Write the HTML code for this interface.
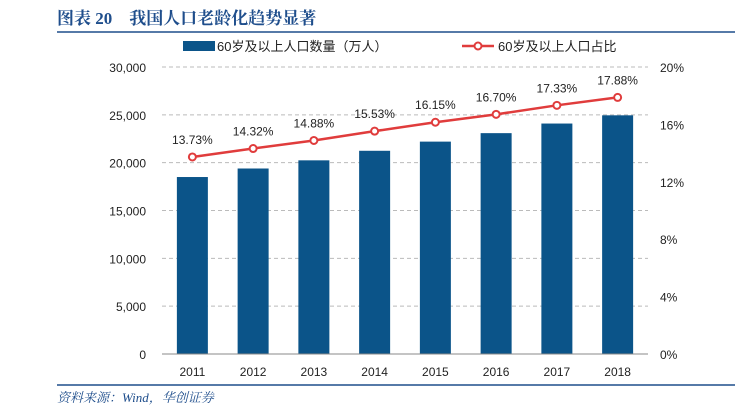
<!DOCTYPE html>
<html><head><meta charset="utf-8"><style>
body{margin:0;background:#fff;}
svg{display:block;font-family:"Liberation Sans","Noto Sans CJK SC",sans-serif;}
</style></head><body>
<svg width="735" height="411">
<text x="57" y="24" font-family="'Liberation Serif','Noto Serif CJK SC',serif" font-weight="bold" font-size="17" fill="#1f4e8c">图表 20　我国人口老龄化趋势显著</text>
<line x1="57" y1="32" x2="735" y2="32" stroke="#1f4e8c" stroke-width="1.5"/>
<g>
<rect x="183" y="41" width="32" height="10" fill="#0b5489"/>
<text x="217" y="51" font-size="13" fill="#222">60岁及以上人口数量（万人）</text>
<line x1="462" y1="46" x2="494" y2="46" stroke="#e03c3c" stroke-width="2.5"/>
<circle cx="478" cy="46" r="3.5" fill="#fff" stroke="#e03c3c" stroke-width="2"/>
<text x="498" y="51" font-size="13" fill="#222">60岁及以上人口占比</text>
</g>
<g id="grid"></g><g id="bars"></g><g id="line"></g><g id="axes"></g>
<line x1="57" y1="385" x2="735" y2="385" stroke="#1f4e8c" stroke-width="1.5"/>
<text x="57" y="402" font-family="'Liberation Serif','Noto Serif CJK SC',serif" font-style="italic" font-size="13" fill="#1f4e8c">资料来源：Wind，华创证券</text>
</svg>
<script>
const years=["2011","2012","2013","2014","2015","2016","2017","2018"];
const population=[18499,19390,20243,21242,22200,23086,24090,24949];
const ratio=[13.73,14.32,14.88,15.53,16.15,16.70,17.33,17.88];
const leftTicks=[0,5000,10000,15000,20000,25000,30000];
const leftTickLabels=["0","5,000","10,000","15,000","20,000","25,000","30,000"];
const rightTicks=[0,4,8,12,16,20];
const NS="http://www.w3.org/2000/svg";
const x0=162,x1=648,yB=354,yT=67;
const band=(x1-x0)/years.length;
const xc=i=>x0+band*(i+0.5);
const yL=v=>yB-(v/30000)*(yB-yT);
const yR=v=>yB-(v/20)*(yB-yT);
function mk(tag,attrs,parent,text){const e=document.createElementNS(NS,tag);for(const k in attrs)e.setAttribute(k,attrs[k]);if(text!==undefined)e.textContent=text;document.getElementById(parent).appendChild(e);return e;}
leftTicks.forEach((t,i)=>{
  const y=yL(t);
  if(t>0){const g=mk('line',{x1:x0,x2:x1,y1:y,y2:y,stroke:'#bbb','stroke-dasharray':'4 3'},'grid');
  
  }
  const l=mk('text',{x:146,y:y+5,'text-anchor':'end','font-size':12,fill:'#222'},'axes',leftTickLabels[i]);
  
  
});
rightTicks.forEach(t=>{
  const l=mk('text',{x:660,y:yR(t)+5,'font-size':12,fill:'#222'},'axes',t+'%');
  
  
});
const base=mk('line',{x1:x0,x2:x1,y1:yB,y2:yB,stroke:'#888','stroke-width':1},'axes');


const bw=31;
years.forEach((yr,i)=>{
  const b=mk('rect',{x:xc(i)-bw/2,y:yL(population[i]),width:bw,height:yB-yL(population[i]),fill:'#0b5489'},'bars');
  
  
  const l=mk('text',{x:xc(i),y:376,'text-anchor':'middle','font-size':12,fill:'#222'},'axes',yr);
  
  
});
const pts=ratio.map((v,i)=>xc(i)+','+yR(v)).join(' ');
const pl=mk('polyline',{points:pts,fill:'none',stroke:'#e03c3c','stroke-width':2.5},'line');


ratio.forEach((v,i)=>{
  const c=mk('circle',{cx:xc(i),cy:yR(v),r:3.5,fill:'#fff',stroke:'#e03c3c','stroke-width':2},'line');
  
  
  const t=mk('text',{x:xc(i),y:yR(v)-13,'text-anchor':'middle','font-size':12,fill:'#222'},'line',v.toFixed(2)+'%');
  
  
});
</script>
</body></html>
